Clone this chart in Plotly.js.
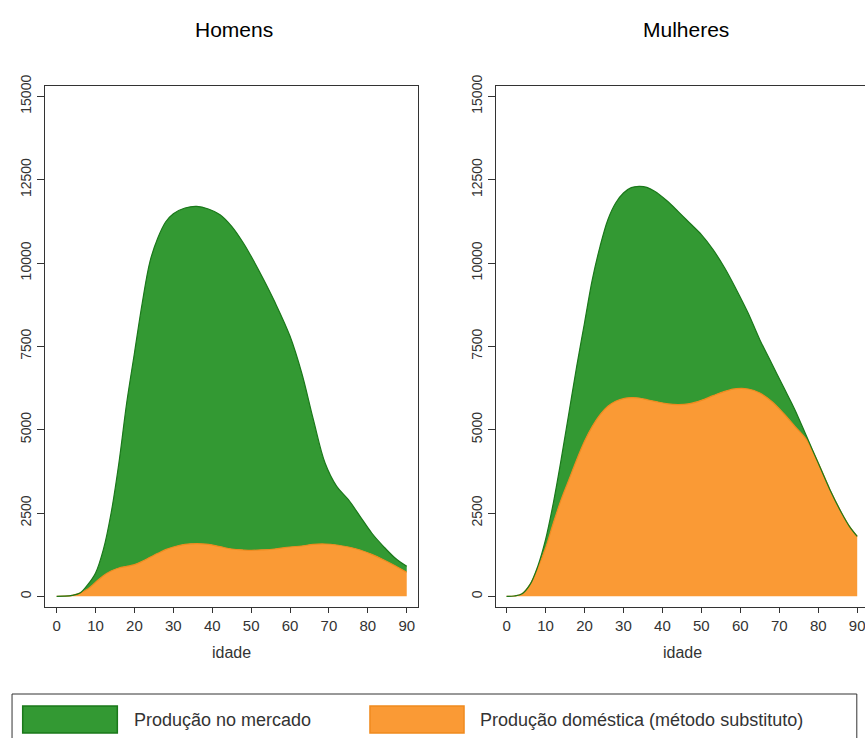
<!DOCTYPE html>
<html>
<head>
<meta charset="utf-8">
<script src="https://cdn.plot.ly/plotly-3.0.1.min.js"></script>
<style>html,body{margin:0;padding:0;background:#fff;}#chart{width:865px;height:738px;}</style>
</head>
<body>
<div id="chart"></div>
<script>
// ---- Data ----
const panelTitles = ["Homens", "Mulheres"];
const seriesNames = ["Produção no mercado", "Produção doméstica (método substituto)"];
const xTitle = "idade";
const xTickVals = [0, 10, 20, 30, 40, 50, 60, 70, 80, 90];
const yTickVals = [0, 2500, 5000, 7500, 10000, 12500, 15000];
const yTickText = ["0", "2500", "5000", "7500", "10000", "12500", "15000"];

// Homens
const idadeH = [0, 2, 4, 6, 8, 10, 12, 14, 16, 18, 20, 22, 24, 26, 28, 30, 33, 36, 39, 42, 45, 48, 50, 53, 56, 60, 63, 66, 69, 72, 75, 78, 81, 84, 87, 90];
const domesticaH = [0, 5, 30, 100, 220, 420, 620, 760, 850, 900, 950, 1050, 1170, 1290, 1400, 1480, 1560, 1580, 1560, 1490, 1420, 1390, 1380, 1395, 1420, 1480, 1510, 1560, 1570, 1540, 1480, 1390, 1260, 1100, 920, 720];
const mercadoH = [0, 0, 0, 0, 130, 280, 780, 1740, 3150, 4900, 6350, 7750, 8880, 9460, 9830, 10000, 10090, 10120, 10060, 9960, 9680, 9210, 8820, 8155, 7430, 6320, 5190, 3740, 2430, 1760, 1420, 1010, 640, 400, 230, 180];

// Mulheres
const idadeM = [0, 2, 4, 6, 8, 10, 12, 14, 16, 18, 20, 22, 24, 26, 28, 30, 32, 34, 36, 38, 41, 44, 47, 50, 53, 56, 59, 62, 65, 68, 71, 74, 77, 80, 83, 86, 88, 90];
const domesticaM = [0, 10, 80, 350, 850, 1450, 2200, 2900, 3500, 4100, 4650, 5100, 5450, 5700, 5850, 5930, 5960, 5950, 5900, 5850, 5780, 5750, 5780, 5880, 6020, 6150, 6230, 6220, 6100, 5850, 5500, 5100, 4700, 4000, 3200, 2500, 2100, 1800];
const mercadoM = [0, 0, 0, 0, 50, 250, 600, 1200, 2000, 2800, 3550, 4400, 5050, 5600, 5950, 6170, 6300, 6350, 6370, 6300, 6100, 5800, 5420, 4970, 4380, 3700, 2970, 2280, 1600, 1150, 800, 500, 100, 0, 0, 0, 0, 0];

// ---- Styles ----
const greenFill = "rgb(51,153,51)";
const greenLine = "rgb(26,120,26)";
const orangeFill = "rgb(250,154,53)";
const orangeLine = "rgb(240,138,30)";
const font = "Liberation Sans, Arial, sans-serif";
const axisCol = "#333";

function area(x, y, xa, ya, fill, line, group, name) {
  return {
    type: "scatter", mode: "lines", x: x, y: y, xaxis: xa, yaxis: ya,
    stackgroup: group, name: name, fillcolor: fill,
    line: {color: line, width: 1.2, shape: "spline", smoothing: 1},
    showlegend: false, hoverinfo: "x+y"
  };
}

const data = [
  area(idadeH, domesticaH, "x", "y", orangeFill, orangeLine, "h", seriesNames[1]),
  area(idadeH, mercadoH, "x", "y", greenFill, greenLine, "h", seriesNames[0]),
  area(idadeM, domesticaM, "x2", "y2", orangeFill, orangeLine, "m", seriesNames[1]),
  area(idadeM, mercadoM, "x2", "y2", greenFill, greenLine, "m", seriesNames[0])
];

function xax(domain, range, anchor) {
  return {
    domain: domain, range: range, anchor: anchor,
    tickvals: xTickVals, ticks: "outside", ticklen: 5, tickcolor: axisCol, tickwidth: 1,
    showline: true, mirror: true, linecolor: axisCol, linewidth: 1,
    showgrid: false, zeroline: false, ticklabeloverflow: "allow",
    tickfont: {family: font, size: 15, color: axisCol}
  };
}
function yax(anchor, mirror) {
  return {
    range: [-320, 15310], anchor: anchor,
    tickvals: yTickVals, ticktext: yTickText, tickangle: -90, ticks: "outside", ticklen: 7, tickcolor: axisCol, tickwidth: 1,
    showline: true, mirror: mirror, linecolor: axisCol, linewidth: 1,
    showgrid: false, zeroline: false, ticklabeloverflow: "allow",
    tickfont: {family: font, size: 14, color: axisCol}
  };
}

const shapes = [
  {type: "rect", xref: "paper", yref: "paper", x0: -0.0402, x1: 0.990, y0: -0.167, y1: -0.275,
   line: {color: axisCol, width: 1}, fillcolor: "rgba(0,0,0,0)"},
  {type: "rect", xref: "paper", yref: "paper", x0: -0.0272, x1: 0.0882, y0: -0.190, y1: -0.2418,
   line: {color: greenLine, width: 1.5}, fillcolor: greenFill},
  {type: "rect", xref: "paper", yref: "paper", x0: 0.3963, x1: 0.511, y0: -0.190, y1: -0.2418,
   line: {color: orangeLine, width: 1.5}, fillcolor: orangeFill}
];

const annotations = [
  {text: panelTitles[0], xref: "paper", yref: "paper", x: 0.2305, y: 1.1075, xanchor: "center", yanchor: "middle", showarrow: false, font: {family: font, size: 21, color: "#000"}},
  {text: panelTitles[1], xref: "paper", yref: "paper", x: 0.7817, y: 1.1075, xanchor: "center", yanchor: "middle", showarrow: false, font: {family: font, size: 21, color: "#000"}},
  {text: xTitle, xref: "paper", yref: "paper", x: 0.2274, y: -0.0864, xanchor: "center", yanchor: "middle", showarrow: false, font: {family: font, size: 16, color: axisCol}},
  {text: xTitle, xref: "paper", yref: "paper", x: 0.778, y: -0.0864, xanchor: "center", yanchor: "middle", showarrow: false, font: {family: font, size: 16, color: axisCol}},
  {text: seriesNames[0], xref: "paper", yref: "paper", x: 0.1057, y: -0.216, xanchor: "left", yanchor: "middle", showarrow: false, font: {family: font, size: 18, color: axisCol}},
  {text: seriesNames[1], xref: "paper", yref: "paper", x: 0.528, y: -0.216, xanchor: "left", yanchor: "middle", showarrow: false, font: {family: font, size: 18, color: axisCol}}
];

const layout = {
  width: 865, height: 738,
  margin: {l: 45, r: 0, t: 86, b: 131, pad: 0},
  paper_bgcolor: "#fff", plot_bgcolor: "#fff",
  showlegend: false,
  xaxis: xax([0, 0.4549], [-3, 92.9], "y"),
  yaxis: yax("x", true),
  xaxis2: xax([0.5496, 1], [-2.8, 92.0], "y2"),
  yaxis2: yax("x2", false),
  shapes: shapes,
  annotations: annotations,
  font: {family: font}
};

Plotly.newPlot("chart", data, layout, {staticPlot: true, displayModeBar: false});
</script>
</body>
</html>
